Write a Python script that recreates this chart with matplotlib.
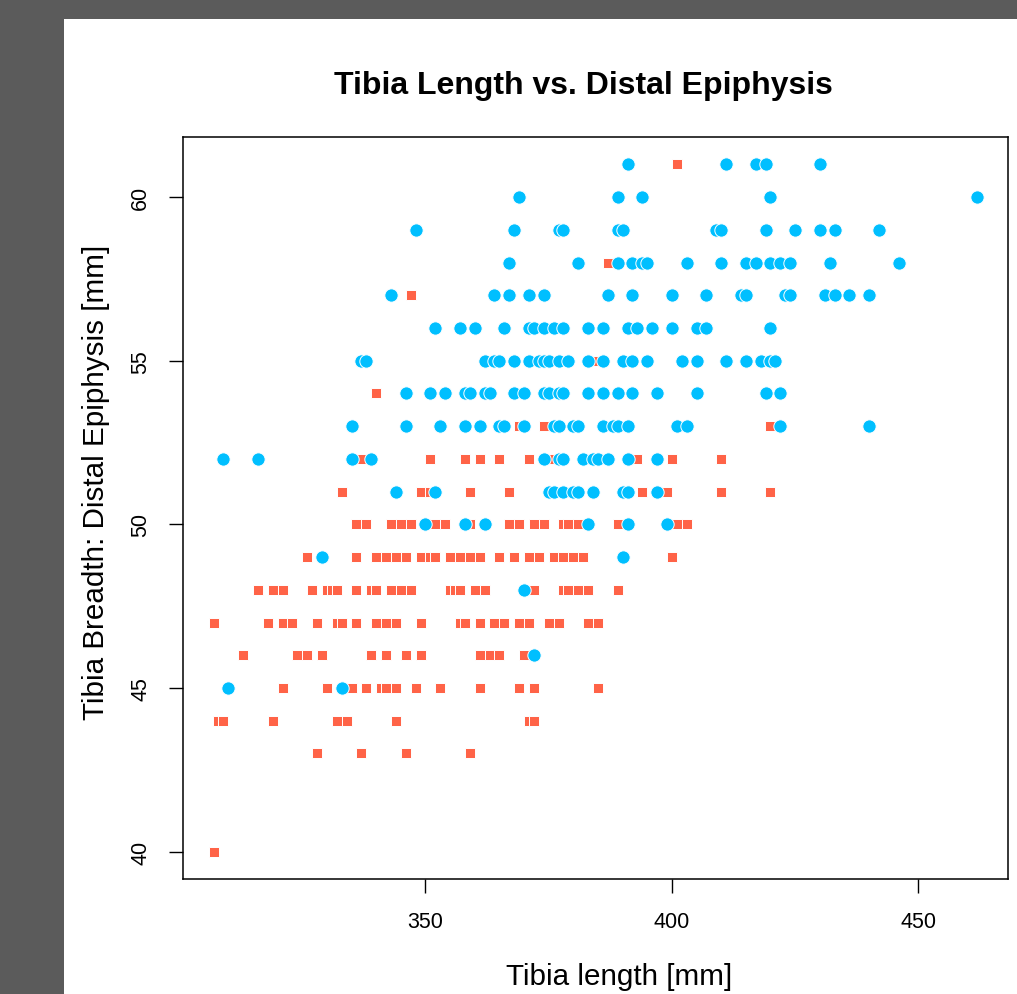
import matplotlib
matplotlib.use("Agg")
import matplotlib.pyplot as plt
from matplotlib.patches import Rectangle

# Tibia breadth (row, mm) -> list of tibia lengths (mm), one list per group
red_rows = {
    61: [401],
    58: [387],
    57: [347],
    55: [385],
    54: [340],
    53: [369, 374, 420],
    52: [337, 351, 358, 361, 365, 371, 375, 393, 400, 410],
    51: [333, 349, 351, 359, 367, 378, 394, 399, 410, 420],
    50: [336, 338, 343, 345, 347, 352, 354, 359, 367, 369, 372, 374, 378,
         379, 381, 389, 401, 403],
    49: [326, 336, 340, 342, 344, 346, 349, 351, 352, 355, 357, 359, 361,
         365, 368, 371, 373, 376, 378, 380, 382, 400],
    48: [316, 319, 321, 327, 330, 331, 332, 336, 339, 340, 343, 345, 347,
         355, 356, 357, 360, 362, 372, 378, 379, 381, 383, 389],
    47: [307, 318, 321, 323, 328, 332, 333, 336, 340, 342, 344, 349, 357,
         358, 361, 364, 366, 369, 371, 375, 377, 383, 385],
    46: [313, 324, 326, 329, 339, 342, 346, 349, 361, 363, 365, 370],
    45: [321, 330, 335, 338, 341, 342, 344, 348, 353, 361, 369, 372, 385],
    44: [308, 309, 319, 332, 334, 344, 371, 372],
    43: [328, 337, 346, 359],
    40: [307],
}

blue_rows = {
    61: [391, 411, 417, 419, 430],
    60: [369, 389, 394, 420, 462],
    59: [348, 368, 377, 378, 389, 390, 409, 410, 419, 425, 430, 433, 442],
    58: [367, 381, 389, 392, 394, 395, 403, 410, 415, 417, 420, 422, 424,
         432, 446],
    57: [343, 364, 367, 371, 374, 387, 392, 400, 407, 414, 415, 423, 424,
         431, 433, 436, 440],
    56: [352, 357, 360, 366, 371, 372, 374, 376, 378, 383, 386, 391, 393,
         396, 400, 405, 407, 420],
    55: [337, 338, 362, 364, 365, 368, 371, 373, 374, 375, 377, 379, 383,
         386, 390, 392, 395, 402, 405, 411, 415, 418, 420, 421],
    54: [346, 351, 354, 358, 359, 362, 363, 368, 370, 374, 375, 377, 378,
         383, 386, 389, 392, 397, 405, 419, 422],
    53: [335, 346, 353, 358, 361, 365, 366, 370, 376, 377, 380, 381, 386,
         388, 389, 391, 401, 403, 422, 440],
    52: [309, 316, 335, 339, 374, 377, 378, 382, 384, 385, 387, 391, 397],
    51: [344, 352, 375, 376, 378, 380, 381, 384, 390, 391, 397],
    50: [350, 358, 362, 383, 391, 399],
    49: [329, 390],
    48: [370],
    46: [372],
    45: [310, 333],
}

x_ticks = [350, 400, 450]
y_ticks = [40, 45, 50, 55, 60]

red_x = [x for y, xs in red_rows.items() for x in xs]
red_y = [y for y, xs in red_rows.items() for x in xs]
blue_x = [x for y, xs in blue_rows.items() for x in xs]
blue_y = [y for y, xs in blue_rows.items() for x in xs]

plt.rcParams['font.family'] = ['Liberation Sans', 'DejaVu Sans']

W, H = 1017, 995
fig = plt.figure(figsize=(W / 100, H / 100), dpi=100)
fig.patch.set_facecolor('#5b5b5b')
fig.add_artist(Rectangle((64 / W, 0), 1 - 64 / W, 1 - 20 / H,
                         transform=fig.transFigure, facecolor='white',
                         edgecolor='none', zorder=0))

ax = fig.add_axes([183 / W, 1 - 880 / H, (1008 - 183) / W, (880 - 138) / H])
ax.set_facecolor('white')

ax.plot(red_x, red_y, linestyle='none', marker='s', markersize=7.6,
        markerfacecolor='#ff6347', markeredgecolor='white',
        markeredgewidth=0.7, zorder=2)
ax.plot(blue_x, blue_y, linestyle='none', marker='o', markersize=9.6,
        markerfacecolor='#00bfff', markeredgecolor='white',
        markeredgewidth=0.7, zorder=3)

ax.margins(0.04)
ax.set_xticks(x_ticks)
ax.set_yticks(y_ticks)
ax.tick_params(axis='x', length=10, width=1, pad=13, labelsize=15.5)
ax.tick_params(axis='y', length=10, width=1, pad=13, labelsize=15.5,
               labelrotation=90)
for lab in ax.get_yticklabels():
    lab.set_verticalalignment('center')
for s in ax.spines.values():
    s.set_linewidth(1.1)

fig.text(583 / W, 1 - 86 / H, 'Tibia Length vs. Distal Epiphysis',
         ha='center', va='center', fontsize=23, fontweight='bold')
fig.text(619 / W, 1 - 977 / H, 'Tibia length [mm]', ha='center',
         va='center', fontsize=21.3)
fig.text(96 / W, 1 - 482 / H, 'Tibia Breadth: Distal Epiphysis [mm]',
         ha='center', va='center', rotation=90, fontsize=21.3)

fig.savefig('out.png', dpi=100, facecolor=fig.get_facecolor())
